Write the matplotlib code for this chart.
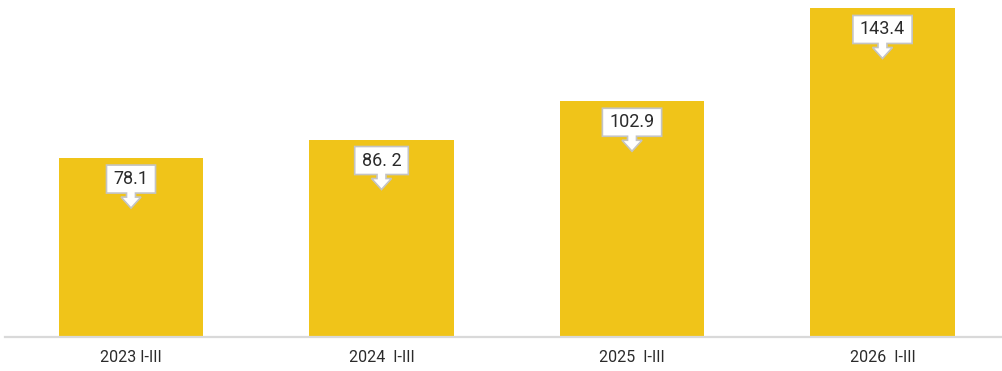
import matplotlib
matplotlib.use("Agg")
import matplotlib.pyplot as plt
import numpy as np
from matplotlib.patches import Polygon
from matplotlib.transforms import IdentityTransform

# ── Data ───────────────────────────────────────────────────────────────────
categories = ["2023 I-III", "2024  I-III", "2025  I-III", "2026  I-III"]
values = [78.1, 86.2, 102.9, 143.4]
value_labels = ["78.1", "86. 2", "102.9", "143.4"]

# ── Style ──────────────────────────────────────────────────────────────────
plt.rcParams["font.family"] = ["Roboto", "DejaVu Sans"]
C_BAR = "#F0C419"
C_AXIS = "#D9D9D9"
C_EDGE = "#C4C4C4"
C_TEXT = "#2B2B2B"

DPI = 100
fig = plt.figure(figsize=(10.02, 3.71), dpi=DPI)
ax = fig.add_axes([5 / 1002, 34 / 371, 997 / 1002, 337 / 371])

x = np.arange(len(categories))
ax.bar(x, values, width=0.575, color=C_BAR, zorder=2)

ax.set_xlim(-0.503, 3.477)
ax.set_ylim(0, 147.1)
for side in ("top", "right", "left"):
    ax.spines[side].set_visible(False)
ax.spines["bottom"].set_color(C_AXIS)
ax.spines["bottom"].set_linewidth(1.6)
ax.set_yticks([])
ax.set_xticks(x)
ax.set_xticklabels(categories, fontsize=11.5, color=C_TEXT)
ax.tick_params(axis="x", length=0, pad=9)

# ── Callout labels (white box with down arrow) ─────────────────────────────
px2pt = 72 / DPI
texts = []
for xi, v, lab in zip(x, values, value_labels):
    t = ax.annotate(lab, xy=(xi, v), xytext=(0, -21 * px2pt),
                    textcoords="offset points", ha="center", va="center",
                    fontsize=13, color=C_TEXT, zorder=6,
                    annotation_clip=False)
    texts.append(t)

fig.canvas.draw()
renderer = fig.canvas.get_renderer()
for xi, v, t in zip(x, values, texts):
    cx, cy = ax.transData.transform((xi, v))
    bb = t.get_window_extent(renderer)
    half = (bb.x1 - bb.x0) / 2 + 7
    top, bot = cy - 7, cy - 35
    s_w, h_w = 4.5, 10
    s_b, tip = cy - 39, cy - 50
    verts = [
        (cx - half, top), (cx + half, top), (cx + half, bot),
        (cx + s_w, bot), (cx + s_w, s_b), (cx + h_w, s_b), (cx, tip),
        (cx - h_w, s_b), (cx - s_w, s_b), (cx - s_w, bot), (cx - half, bot),
    ]
    poly = Polygon(verts, closed=True, facecolor="white", edgecolor=C_EDGE,
                   linewidth=1.2, transform=IdentityTransform(), zorder=4,
                   clip_on=False)
    ax.add_artist(poly)

fig.savefig("out.png", dpi=DPI)
